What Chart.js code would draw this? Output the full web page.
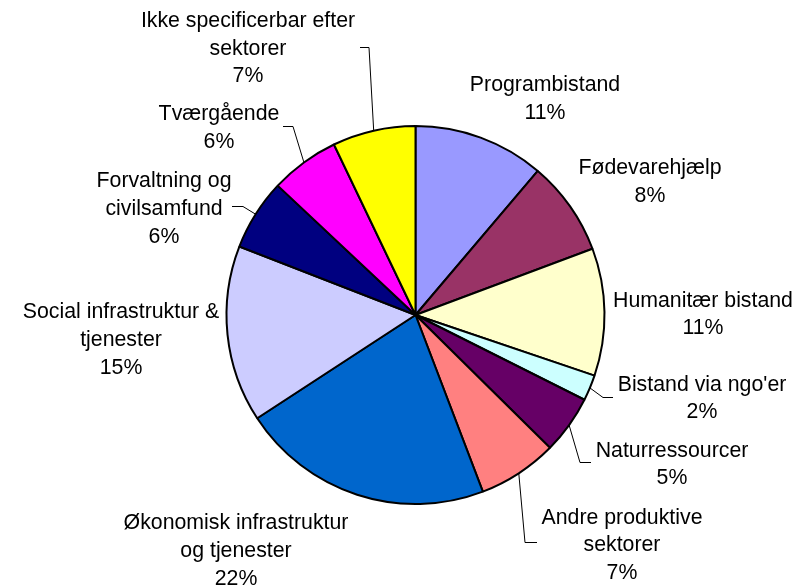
<!DOCTYPE html>
<html>
<head>
<meta charset="utf-8">
<script src="https://cdn.jsdelivr.net/npm/chart.js@4.4.0/dist/chart.umd.min.js"></script>
<style>
  html, body { margin: 0; padding: 0; background: #fff; }
  #wrap { width: 809px; height: 588px; }
</style>
</head>
<body>
<div id="wrap"><canvas id="pieChart" width="809" height="588"></canvas></div>
<script>
// Fordeling af bistanden på sektorer (andel i procent)
const sectorLabels = [
  ["Programbistand"],
  ["Fødevarehjælp"],
  ["Humanitær bistand"],
  ["Bistand via ngo'er"],
  ["Naturressourcer"],
  ["Andre produktive", "sektorer"],
  ["Økonomisk infrastruktur", "og tjenester"],
  ["Social infrastruktur &", "tjenester"],
  ["Forvaltning og", "civilsamfund"],
  ["Tværgående"],
  ["Ikke specificerbar efter", "sektorer"]
];
const sectorShares = [11.2, 8.1, 10.9, 2.2, 5.0, 6.8, 21.6, 15.1, 6.1, 5.9, 7.1];

const sectorColors = [
  "#9999ff",
  "#993366",
  "#ffffcc",
  "#ccffff",
  "#660066",
  "#ff8080",
  "#0066cc",
  "#ccccff",
  "#000080",
  "#ff00ff",
  "#ffff00"
];

// Placering af etiketter (x = midte, y = første grundlinje) og evt. ledelinje
const labelLayout = [
  { x: 545, y: 91 },
  { x: 650, y: 174 },
  { x: 703, y: 306.5 },
  { x: 702, y: 390.5, leader: [[603, 397], [613, 397]] },
  { x: 672, y: 456.5, leader: [[580, 462], [591, 462]] },
  { x: 622, y: 523.5, leader: [[525, 542], [537, 542]] },
  { x: 236, y: 529 },
  { x: 121, y: 318 },
  { x: 164, y: 187, leader: [[243, 206], [232, 206]] },
  { x: 219, y: 120, leader: [[293, 126], [283, 126]] },
  { x: 248, y: 26.7, leader: [[369, 47], [360, 47]] }
];
const lineHeight = 27.8;
const labelFont = '21.3px "Liberation Sans", Arial, sans-serif';

const sliceLabels = {
  id: "sliceLabels",
  afterDatasetsDraw(chart) {
    const ctx = chart.ctx;
    const meta = chart.getDatasetMeta(0);
    const total = sectorShares.reduce((a, b) => a + b, 0);
    ctx.save();
    ctx.font = labelFont;
    ctx.fillStyle = "#000";
    ctx.strokeStyle = "#000";
    ctx.lineWidth = 1;
    ctx.textAlign = "center";
    ctx.textBaseline = "alphabetic";
    meta.data.forEach((arc, i) => {
      const pos = labelLayout[i];
      const pct = Math.round(sectorShares[i] / total * 100) + "%";
      const lines = sectorLabels[i].concat(pct);
      lines.forEach((txt, j) => ctx.fillText(txt, pos.x, pos.y + j * lineHeight));

      if (pos.leader) {
        const mid = (arc.startAngle + arc.endAngle) / 2;
        const ex = arc.x + Math.cos(mid) * arc.outerRadius;
        const ey = arc.y + Math.sin(mid) * arc.outerRadius;
        ctx.beginPath();
        ctx.moveTo(ex, ey);
        pos.leader.forEach(p => ctx.lineTo(p[0], p[1] + 0.5));
        ctx.stroke();
      }
    });
    ctx.restore();
  }
};

const canvas = document.getElementById("pieChart");
new Chart(canvas.getContext("2d"), {
  type: "pie",
  data: {
    labels: sectorLabels,
    datasets: [{
      data: sectorShares,
      backgroundColor: sectorColors,
      borderColor: "#000",
      borderWidth: 2,
      radius: 189
    }]
  },
  options: {
    responsive: false,
    animation: false,
    layout: {
      padding: { top: 42, bottom: 0, left: 22, right: 0 }
    },
    plugins: {
      legend: { display: false },
      tooltip: { enabled: false }
    }
  },
  plugins: [sliceLabels]
});
</script>
</body>
</html>
